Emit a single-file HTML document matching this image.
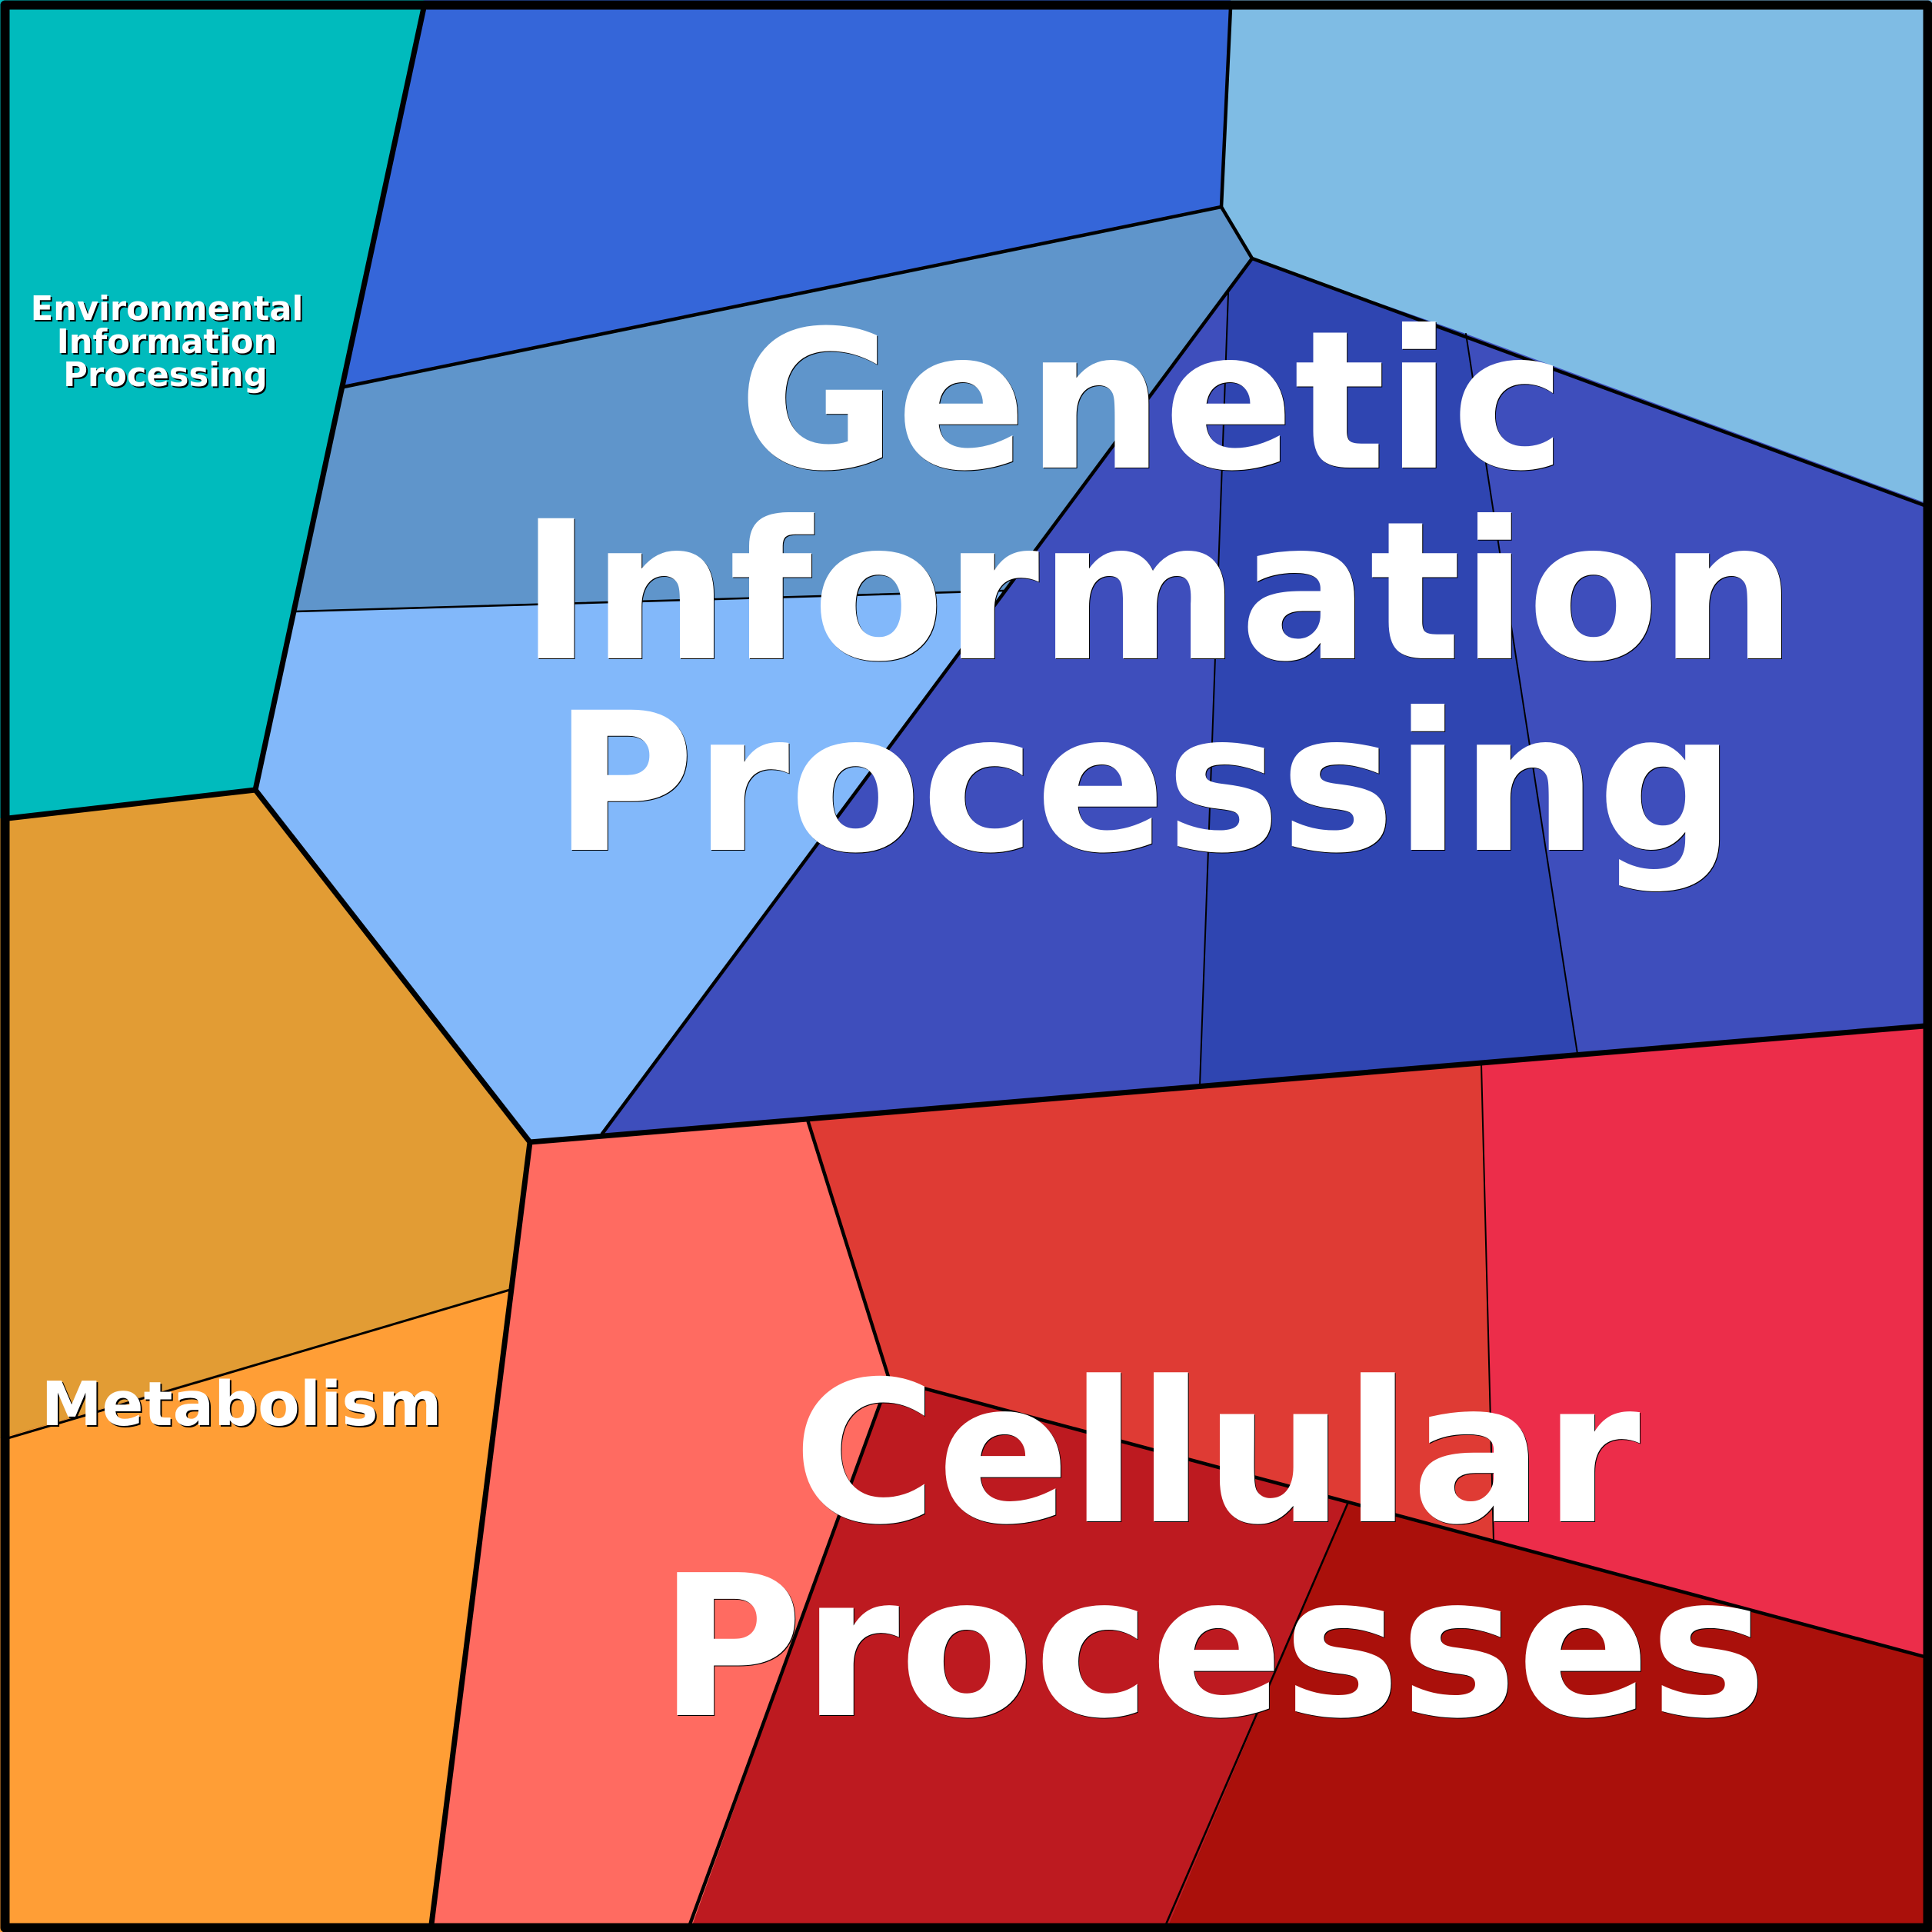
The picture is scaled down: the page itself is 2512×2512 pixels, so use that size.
<!DOCTYPE html>
<html><head><meta charset="utf-8"><style>
html,body{margin:0;padding:0;background:#000}
svg{display:block}
text{font-family:"DejaVu Sans",sans-serif;font-weight:bold;text-anchor:middle}
</style></head><body>
<svg xmlns="http://www.w3.org/2000/svg" width="2512" height="2512" viewBox="0 0 2512 2512">
<rect width="2512" height="2512" fill="#000"/>
<polygon fill="#00BBBD" points="0,0 551,0 447,503 332,1027 0,1064"/>
<polygon fill="#3566D9" points="551,0 1600,0 1588,269 447,503"/>
<polygon fill="#7FBCE4" points="1600,0 2512,0 2512,657 1628,336 1588,269"/>
<polygon fill="#5F95CB" points="447,503 1588,269 1628,336 1307,768 385,795"/>
<polygon fill="#82B8FA" points="385,795 1307,768 783,1474 689,1485 332,1027"/>
<polygon fill="#3E4EBC" points="1628,336 1597,381 1560,1411 783,1474"/>
<polygon fill="#2F45B1" points="1628,336 1906,434 2051,1370 1560,1411 1597,381"/>
<polygon fill="#3E4EBC" points="1906,434 2512,657 2512,1334 2051,1370"/>
<polygon fill="#E29C34" points="0,1064 332,1027 689,1485 663,1677 0,1870"/>
<polygon fill="#FF9E36" points="0,1870 663,1677 561,2512 0,2512"/>
<polygon fill="#FF6B61" points="689,1485 1050,1456 1156,1793 897,2512 561,2512"/>
<polygon fill="#DF3B34" points="1050,1456 1926,1384 1942,2004 1156,1793"/>
<polygon fill="#EC2D4A" points="1926,1384 2512,1334 2512,2157 1942,2004"/>
<polygon fill="#BD1A20" points="1156,1793 1753,1953 1516,2512 897,2512"/>
<polygon fill="#AA100B" points="1753,1953 2512,2157 2512,2512 1516,2512"/>
<g fill="none" stroke="#000" stroke-linecap="round">
<g stroke-width="2">
<path d="M1597,381L1560,1411"/><path d="M1906,434L2051,1370"/><path d="M1926,1384L1942,2004"/>
</g>
<g stroke-width="2.6">
<path d="M1753,1953L1516,2502"/><path d="M385,795L1307,768"/>
</g>
<path stroke-width="3" d="M663,1677L10,1870"/>
<g stroke-width="4.5">
<path d="M1600,10L1588,269L447,503"/><path d="M1588,269L1628,336L2502,657"/><path d="M1628,336L783,1474"/>
<path d="M1050,1456L1156,1793L2502,2154"/><path d="M1156,1793L897,2502"/>
</g>
<g stroke-width="7">
<path d="M551,10L332,1027L10,1064"/><path d="M332,1027L689,1485L561,2502"/><path d="M689,1485L2502,1334"/>
</g>
<rect x="6.5" y="6.5" width="2500" height="2500" stroke-width="12" stroke-linejoin="round"/>
</g>
<g font-size="43.2">
<g fill="#000" transform="translate(2,2)"><text x="217" y="416">Environmental</text><text x="217" y="459">Information</text><text x="215" y="502">Processing</text></g>
<g fill="#fff"><text x="217" y="416">Environmental</text><text x="217" y="459">Information</text><text x="215" y="502">Processing</text></g>
</g>
<g font-size="79.5">
<text fill="#000" x="316" y="1855">Metabolism</text>
<text fill="#fff" x="314" y="1853">Metabolism</text>
</g>
<g font-size="250">
<g fill="#000" transform="translate(1,1)"><text x="1498" y="608">Genetic</text><text x="1506" y="856">Information</text><text x="1488" y="1105">Processing</text></g>
<g fill="#fff"><text x="1498" y="608">Genetic</text><text x="1506" y="856">Information</text><text x="1488" y="1105">Processing</text></g>
</g>
<g font-size="255">
<g fill="#000" transform="translate(1,1)"><text x="1582" y="1978">Cellular</text><text x="1577" y="2230">Processes</text></g>
<g fill="#fff"><text x="1582" y="1978">Cellular</text><text x="1577" y="2230">Processes</text></g>
</g>
</svg>
</body></html>
